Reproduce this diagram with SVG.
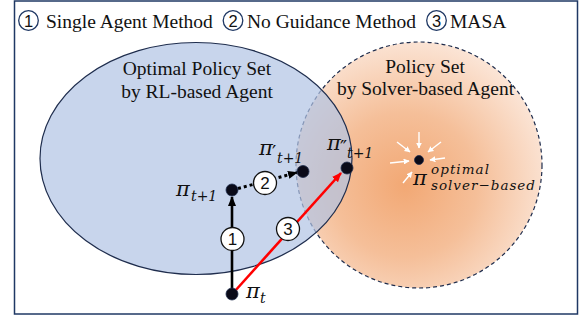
<svg xmlns="http://www.w3.org/2000/svg" width="585" height="321" viewBox="0 0 585 321">
<defs>
<style>
.ttl{font-family:"Liberation Serif","Times New Roman",serif;font-size:19.5px;fill:#111}
.lbl{font-family:"Liberation Serif","Times New Roman",serif;font-size:19.5px;fill:#111;text-anchor:middle}
.pi{font-family:"DejaVu Serif",serif;font-style:italic;font-size:21px;fill:#111}
.sub{font-size:14px}
.pr{font-size:19px;font-style:normal}
.sm{font-size:13.5px}
.num{font-family:"Liberation Sans",Arial,sans-serif;font-size:17px;fill:#111;text-anchor:middle}
.tnum{font-family:"Liberation Sans",Arial,sans-serif;font-size:16.5px;fill:#111;text-anchor:middle}
.tc{fill:none;stroke:#1f3864;stroke-width:1.3}
.nc{fill:#fff;stroke:#111;stroke-width:1.3}
.dot{fill:#0a0a18;stroke:#1f2d4d;stroke-width:0.8}
.wa{stroke:#fff;stroke-width:1.4;fill:none;marker-end:url(#wh)}
</style>
<radialGradient id="og" cx="405" cy="185" r="145" gradientUnits="userSpaceOnUse">
<stop offset="0" stop-color="#f2a874"/>
<stop offset="0.5" stop-color="#f5bf99"/>
<stop offset="1" stop-color="#fbe4d5"/>
</radialGradient>
<marker id="ab" markerUnits="userSpaceOnUse" markerWidth="10" markerHeight="10" viewBox="0 0 10 10" refX="9" refY="5" orient="auto">
<path d="M0,1 L10,5 L0,9 z" fill="#000"/>
</marker>
<marker id="ar" markerUnits="userSpaceOnUse" markerWidth="10" markerHeight="10" viewBox="0 0 10 10" refX="9" refY="5" orient="auto">
<path d="M0,1 L10,5 L0,9 z" fill="#ff0000"/>
</marker>
<marker id="wh" markerUnits="userSpaceOnUse" markerWidth="6" markerHeight="6" viewBox="0 0 10 10" refX="9" refY="5" orient="auto">
<path d="M0,0 L10,5 L0,10 z" fill="#fff"/>
</marker>
</defs>

<g id="frame">
<rect x="14.5" y="1" width="563" height="313" fill="#fff" stroke="#1f3864" stroke-width="1.5"/>
</g>

<g id="legend">
<circle class="tc" cx="28.5" cy="20.5" r="9.8"/>
<text class="tnum" x="28.5" y="26.5">1</text>
<text class="ttl" x="46" y="28">Single Agent Method</text>
<circle class="tc" cx="233" cy="20.5" r="9.8"/>
<text class="tnum" x="233" y="26.5">2</text>
<text class="ttl" x="247" y="28">No Guidance Method</text>
<circle class="tc" cx="436.5" cy="20.5" r="9.8"/>
<text class="tnum" x="436.5" y="26.5">3</text>
<text class="ttl" x="450" y="28">MASA</text>
</g>

<g id="solver-set">
<circle cx="419" cy="165" r="123" fill="url(#og)" stroke="#1f2d4d" stroke-width="1.2" stroke-dasharray="4 3"/>
<text class="lbl" x="425" y="73">Policy Set</text>
<text class="lbl" x="425.5" y="95">by Solver-based Agent</text>
</g>

<g id="rl-set">
<ellipse cx="196" cy="158.5" rx="156" ry="116" fill="#b0c3e4" fill-opacity="0.7" stroke="#1f2d4d" stroke-width="1.2"/>
<text class="lbl" x="197" y="75">Optimal Policy Set</text>
<text class="lbl" x="197" y="98">by RL-based Agent</text>
</g>

<g id="optimal">
<line class="wa" x1="419" y1="132" x2="419" y2="148"/>
<line class="wa" x1="397" y1="142" x2="410" y2="152"/>
<line class="wa" x1="441" y1="142" x2="428" y2="152"/>
<line class="wa" x1="390" y1="163" x2="409" y2="161"/>
<line class="wa" x1="445" y1="158" x2="430" y2="160"/>
<line class="wa" x1="403" y1="183" x2="412" y2="172"/>
<circle class="dot" cx="419" cy="160" r="4.5"/>
<text class="pi" x="413" y="185">π<tspan class="sm" x="431" y="174" textLength="58">optimal</tspan><tspan class="sm" x="431" y="190" textLength="104">solver−based</tspan></text>
</g>

<g id="connectors">
<line x1="232" y1="294" x2="232" y2="197" stroke="#000" stroke-width="2.6" marker-end="url(#ab)"/>
<line x1="238" y1="188.5" x2="297" y2="172.5" stroke="#000" stroke-width="3" stroke-dasharray="3 3" marker-end="url(#ab)"/>
<line x1="235" y1="291" x2="341" y2="173" stroke="#ff0000" stroke-width="2.6" marker-end="url(#ar)"/>
<circle class="nc" cx="232.5" cy="239" r="11.5"/>
<text class="num" x="232.5" y="245">1</text>
<circle class="nc" cx="265" cy="183" r="11.5"/>
<text class="num" x="265" y="189">2</text>
<circle class="nc" cx="288" cy="229" r="11.5"/>
<text class="num" x="288" y="235">3</text>
</g>

<g id="pi-t">
<circle class="dot" cx="232" cy="294" r="6"/>
<text class="pi" x="246" y="298">π<tspan class="sub" x="260" y="303">t</tspan></text>
</g>

<g id="pi-t1">
<circle class="dot" cx="232" cy="190" r="6"/>
<text class="pi" x="176" y="196">π<tspan class="sub" x="191" y="201">t+1</tspan></text>
</g>

<g id="pi-t1-prime">
<circle class="dot" cx="303" cy="171.5" r="6"/>
<text class="pi" x="259" y="155">π<tspan class="pr" x="272" y="159">′</tspan><tspan class="sub" x="277" y="163">t+1</tspan></text>
</g>

<g id="pi-t1-dprime">
<circle class="dot" cx="347" cy="168" r="6"/>
<text class="pi" x="327" y="150">π<tspan class="pr" x="340" y="154">″</tspan><tspan class="sub" x="347" y="158">t+1</tspan></text>
</g>
</svg>
